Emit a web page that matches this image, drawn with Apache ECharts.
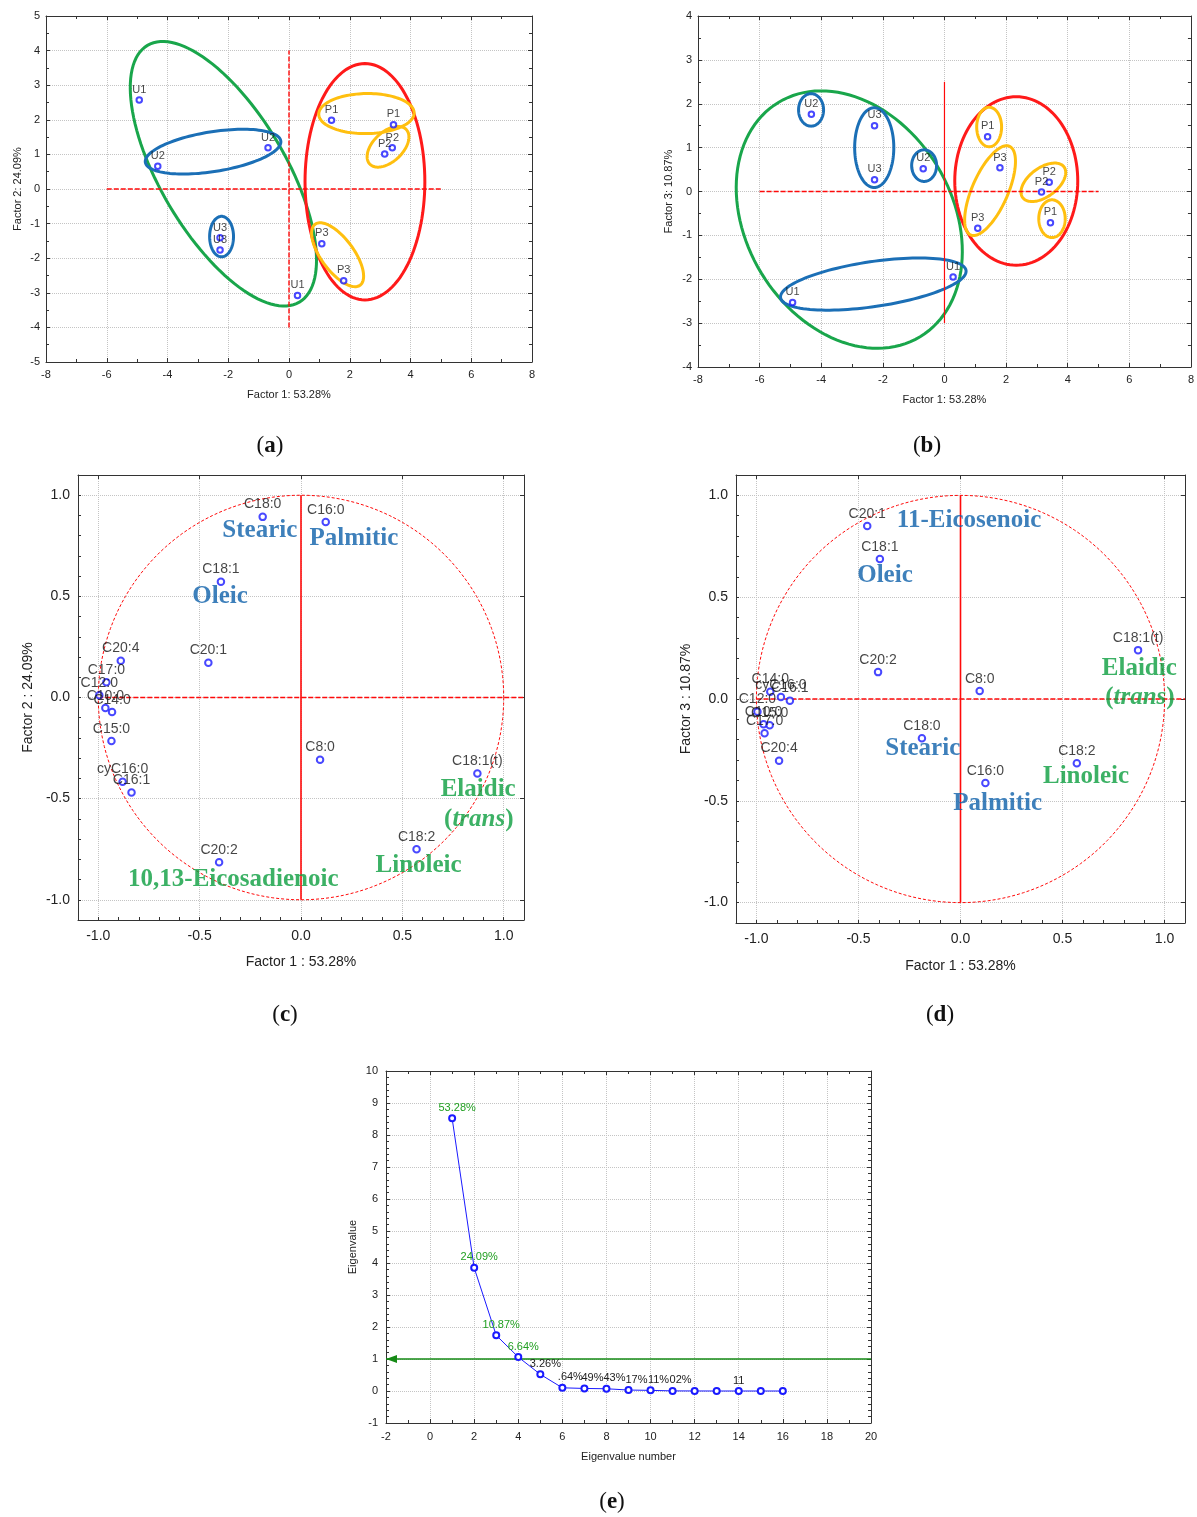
<!DOCTYPE html>
<html>
<head>
<meta charset="utf-8">
<title>PCA of fatty acids</title>
<script src="https://cdn.jsdelivr.net/npm/echarts@6/dist/echarts.min.js"></script>
<style>
html, body { margin: 0; padding: 0; background: #fff; }
#main { width: 1197px; height: 1517px; }
</style>
</head>
<body>
<div id="main"></div>
<script>
// ---- samples, panels (a) and (b) ----
const sampleNames = ['U1', 'U2', 'U2', 'U3', 'U3', 'U1', 'P1', 'P1', 'P2', 'P2', 'P3', 'P3'];
const sampleF1 = [-4.93, -4.32, -0.69, -2.27, -2.27, 0.28, 1.40, 3.44, 3.40, 3.15, 1.08, 1.80];
const sampleF2 = [2.57, 0.66, 1.19, -1.41, -1.76, -3.08, 1.99, 1.86, 1.19, 1.01, -1.58, -2.65];
const sampleF3 = [-2.53, 1.76, 0.52, 1.50, 0.27, -1.95, 1.25, -0.71, 0.21, -0.01, -0.84, 0.54];

// group ellipses: colour, centre x, centre y, tip of one half-axis x, y, minor/major ratio
const ellipsesA = [
  ['green', -2.16, 0.44, 0.34, -3.27, 0.42],
  ['blue', -2.50, 1.08, -0.27, 1.39, 0.29],
  ['blue', -2.22, -1.375, -2.22, -0.79, 0.59],
  ['red', 2.50, 0.21, 2.50, 3.625, 0.507],
  ['yellow', 2.55, 2.18, 4.12, 2.20, 0.42],
  ['yellow', 3.26, 1.22, 3.86, 1.72, 0.59],
  ['yellow', 1.60, -1.90, 2.34, -2.78, 0.43]
];
const ellipsesB = [
  ['green', -3.09, -0.64, -0.79, -3.31, 0.752],
  ['blue', -2.31, -2.11, 0.70, -1.80, 0.24],
  ['blue', -4.33, 1.86, -4.33, 2.23, 0.77],
  ['blue', -2.28, 1.00, -2.28, 1.91, 0.49],
  ['blue', -0.66, 0.59, -0.66, 0.95, 0.79],
  ['red', 2.33, 0.24, 2.33, 2.16, 0.73],
  ['yellow', 1.45, 1.47, 1.45, 1.92, 0.63],
  ['yellow', 1.48, 0.02, 2.11, 1.03, 0.37],
  ['yellow', 3.21, 0.21, 3.88, 0.56, 0.56],
  ['yellow', 3.49, -0.62, 3.49, -0.19, 0.70]
];
const crossAH = [[-6, 0], [5, 0]];
const crossAV = [[0, -4], [0, 4]];
const crossBH = [[-6, 0], [5, 0]];
const crossBV = [[0, -3], [0, 2.5]];

// ---- loadings, panels (c) and (d) ----
const fattyAcids = ['C8:0', 'C10:0', 'C12:0', 'C14:0', 'C15:0', 'C16:0', 'C16:1', 'cyC16:0',
  'C17:0', 'C18:0', 'C18:1', 'C18:1(t)', 'C18:2', 'C20:1', 'C20:2', 'C20:4'];
const loadF1 = [0.094, -0.965, -0.995, -0.932, -0.935, 0.122, -0.836, -0.880,
  -0.960, -0.189, -0.395, 0.870, 0.570, -0.457, -0.404, -0.889];
const loadF2 = [-0.308, -0.052, 0.011, -0.072, -0.215, 0.868, -0.470, -0.417,
  0.075, 0.893, 0.572, -0.376, -0.750, 0.172, -0.815, 0.182];
const loadF3 = [0.039, -0.124, -0.062, 0.036, -0.129, -0.413, -0.008, 0.010,
  -0.168, -0.193, 0.688, 0.240, -0.315, 0.850, 0.132, -0.303];
const circleRadius = 1;
const crossLoadH = [[-1, 0], [1.1, 0]];
const crossLoadV = [[0, -1], [0, 1]];

const annCText = ['Stearic', 'Palmitic', 'Oleic', 'Elaidic', '(trans)', 'Linoleic', '10,13-Eicosadienoic'];
const annCX = [-0.203, 0.261, -0.399, 0.874, 0.877, 0.580, -0.334];
const annCY = [0.824, 0.787, 0.499, -0.456, -0.601, -0.830, -0.901];
const annCGroup = ['blue', 'blue', 'blue', 'green', 'green', 'green', 'green'];

const annDText = ['11-Eicosenoic', 'Oleic', 'Elaidic', '(trans)', 'Stearic', 'Palmitic', 'Linoleic'];
const annDX = [0.042, -0.370, 0.876, 0.879, -0.185, 0.182, 0.615];
const annDY = [0.876, 0.606, 0.150, 0.005, -0.245, -0.515, -0.379];
const annDGroup = ['blue', 'blue', 'green', 'green', 'blue', 'blue', 'green'];

// ---- scree plot, panel (e) ----
const eigenNumber = [1, 2, 3, 4, 5, 6, 7, 8, 9, 10, 11, 12, 13, 14, 15, 16];
const eigenValue = [8.52, 3.85, 1.74, 1.06, 0.52, 0.10, 0.08, 0.07, 0.03, 0.02, 0.003, 0.001, 0, 0, 0, 0];
const eigenLabel = ['53.28%', '24.09%', '10.87%', '6.64%', '3.26%', '.64%', '49%', '43%', '17%', '11%', '02%', '', '', '11', '', ''];
const kaiserLine = [[-2, 1], [20, 1]];

const panelLetters = ['a', 'b', 'c', 'd', 'e'];

// ---- styles ----
const SANS = "'Liberation Sans', Arial, sans-serif";
const SERIF = "'Liberation Serif', 'Times New Roman', serif";
const SHAPE_COLORS = { green: '#19a64b', blue: '#1b6fb6', red: '#ff1a1a', yellow: '#ffbf0f' };
const TEXT_COLORS = { blue: '#0e60aa', green: '#0b9d3f' };
const POINT_COLOR = '#1a1aff';
const RED = '#ff0a0a';

const grids = [
  { left: 46, top: 16, width: 486, height: 346 },
  { left: 698, top: 16, width: 493, height: 351 },
  { left: 78, top: 475, width: 446, height: 445 },
  { left: 736, top: 475, width: 449, height: 448 },
  { left: 386, top: 1071, width: 485, height: 352 }
];

function halfFmt(v) {
  const h = Math.round(v * 2);
  return Math.abs(v * 2 - h) < 1e-6 ? (h / 2).toFixed(1) : '';
}

function makeAxis(dim, gridIndex, cfg, mirror) {
  const a = {
    type: 'value', gridIndex: gridIndex,
    position: dim === 'x' ? (mirror ? 'top' : 'bottom') : (mirror ? 'right' : 'left'),
    min: cfg.min, max: cfg.max,
    axisLine: { show: true, onZero: false, lineStyle: { color: '#333', width: 1 } },
    axisTick: { show: true, inside: true, length: 4, lineStyle: { color: '#333' } },
    minorTick: { show: cfg.minor > 0, splitNumber: cfg.minor || 2, length: 3, lineStyle: { color: '#333' } },
    axisLabel: { show: !mirror, fontFamily: SANS, fontSize: cfg.fs, color: '#222', margin: cfg.margin },
    splitLine: { show: false, lineStyle: { color: '#c4c4c4', type: 'dotted', width: 1 } }
  };
  if (!mirror) {
    a.name = cfg.name;
    a.nameLocation = 'middle';
    a.nameGap = cfg.nameGap;
    a.nameTextStyle = { fontFamily: SANS, fontSize: cfg.fs, color: '#222' };
  }
  if (cfg.loading) {
    // loadings: fine ticks every 0.1 on the labelled axis, grid lines every 0.5 from the mirror axis
    if (mirror) {
      a.splitNumber = 5;
      a.splitLine.show = true;
      a.minorTick.show = false;
    } else {
      a.interval = 0.1;
      a.minorTick.show = false;
      a.axisTick.length = 3;
      a.axisLabel.formatter = halfFmt;
    }
  } else {
    a.interval = cfg.interval;
    a.splitLine.show = !mirror;
  }
  return a;
}

const xCfg = [
  { min: -8, max: 8, interval: 2, minor: 2, fs: 11, name: 'Factor 1: 53.28%', nameGap: 27, margin: 7 },
  { min: -8, max: 8, interval: 2, minor: 2, fs: 11, name: 'Factor 1: 53.28%', nameGap: 27, margin: 7 },
  { min: -1.1, max: 1.1, loading: true, fs: 14, name: 'Factor 1 : 53.28%', nameGap: 35, margin: 9 },
  { min: -1.1, max: 1.1, loading: true, fs: 14, name: 'Factor 1 : 53.28%', nameGap: 36, margin: 9 },
  { min: -2, max: 20, interval: 2, minor: 2, fs: 11, name: 'Eigenvalue number', nameGap: 28, margin: 8 }
];
const yCfg = [
  { min: -5, max: 5, interval: 1, minor: 2, fs: 11, name: 'Factor 2: 24.09%', nameGap: 23, margin: 6 },
  { min: -4, max: 4, interval: 1, minor: 2, fs: 11, name: 'Factor 3: 10.87%', nameGap: 24, margin: 6 },
  { min: -1.1, max: 1.1, loading: true, fs: 14, name: 'Factor 2 : 24.09%', nameGap: 43, margin: 8 },
  { min: -1.1, max: 1.1, loading: true, fs: 14, name: 'Factor 3 : 10.87%', nameGap: 43, margin: 8 },
  { min: -1, max: 10, interval: 1, minor: 5, fs: 11, name: 'Eigenvalue', nameGap: 28, margin: 8 }
];

const xAxes = [];
const yAxes = [];
for (let g = 0; g < 5; g++) {
  xAxes.push(makeAxis('x', g, xCfg[g], false));
  yAxes.push(makeAxis('y', g, yCfg[g], false));
}
for (let g = 0; g < 5; g++) {
  xAxes.push(makeAxis('x', g, xCfg[g], true));
  yAxes.push(makeAxis('y', g, yCfg[g], true));
}

function pointSeries(ax, names, xs, ys, size, fs) {
  return {
    type: 'scatter', xAxisIndex: ax, yAxisIndex: ax, z: 5,
    symbol: 'emptyCircle', symbolSize: size,
    itemStyle: { color: POINT_COLOR, borderWidth: 1 },
    label: {
      show: true, position: 'top', distance: 1, formatter: function (p) { return p.name; },
      fontFamily: SANS, fontSize: fs, color: '#151515'
    },
    data: names.map(function (n, i) { return { name: n, value: [xs[i], ys[i]] }; })
  };
}

// straight reference segment drawn through the axes' scales (optional arrow head at the start)
function segmentSeries(ax, seg, color, width, dash, arrow) {
  return {
    type: 'custom', xAxisIndex: ax, yAxisIndex: ax, z: 4, silent: true,
    data: [[seg[0][0], seg[0][1], seg[1][0], seg[1][1]]],
    renderItem: function (params, api) {
      const p = api.coord([api.value(0), api.value(1)]);
      const q = api.coord([api.value(2), api.value(3)]);
      const style = { stroke: color, lineWidth: width };
      if (dash) style.lineDash = dash;
      const children = [{ type: 'line', shape: { x1: p[0], y1: p[1], x2: q[0], y2: q[1] }, style: style }];
      if (arrow) {
        children.push({
          type: 'polygon',
          shape: { points: [[p[0], p[1]], [p[0] + 11, p[1] - 4], [p[0] + 11, p[1] + 4]] },
          style: { fill: color }
        });
      }
      return { type: 'group', children: children };
    }
  };
}

function ellipseSeries(ax, list) {
  return {
    type: 'custom', xAxisIndex: ax, yAxisIndex: ax, z: 3, silent: true,
    data: list.map(function (e) { return [e[1], e[2], e[3], e[4], e[5]]; }),
    renderItem: function (params, api) {
      const c = api.coord([api.value(0), api.value(1)]);
      const t = api.coord([api.value(2), api.value(3)]);
      const ux = t[0] - c[0], uy = t[1] - c[1], r = api.value(4);
      const pts = [];
      for (let k = 0; k < 120; k++) {
        const a = k / 120 * Math.PI * 2, ca = Math.cos(a), sa = Math.sin(a);
        pts.push([c[0] + ux * ca - uy * r * sa, c[1] + uy * ca + ux * r * sa]);
      }
      return {
        type: 'polygon', shape: { points: pts },
        style: { fill: 'none', stroke: SHAPE_COLORS[list[params.dataIndex][0]], lineWidth: 3 }
      };
    }
  };
}

function circleSeries(ax) {
  return {
    type: 'custom', xAxisIndex: ax, yAxisIndex: ax, z: 2, silent: true,
    data: [[0, 0, circleRadius]],
    renderItem: function (params, api) {
      const c = api.coord([api.value(0), api.value(1)]);
      const s = api.size([api.value(2), api.value(2)]);
      const pts = [];
      for (let k = 0; k < 180; k++) {
        const a = k / 180 * Math.PI * 2;
        pts.push([c[0] + s[0] * Math.cos(a), c[1] + s[1] * Math.sin(a)]);
      }
      return {
        type: 'polygon', shape: { points: pts },
        style: { fill: 'none', stroke: RED, lineWidth: 1, lineDash: [3, 2] }
      };
    }
  };
}

function annotationSeries(ax, texts, xs, ys, groups) {
  const base = { fontFamily: SERIF, fontSize: 25, fontWeight: 'bold' };
  return {
    type: 'scatter', xAxisIndex: ax, yAxisIndex: ax, z: 6, silent: true,
    symbolSize: 1, itemStyle: { color: 'rgba(0,0,0,0)' },
    data: texts.map(function (t, i) {
      const col = TEXT_COLORS[groups[i]];
      return {
        name: t, value: [xs[i], ys[i]],
        label: {
          color: col,
          rich: {
            n: Object.assign({ color: col }, base),
            i: Object.assign({ color: col, fontStyle: 'italic' }, base)
          }
        }
      };
    }),
    label: Object.assign({
      show: true, position: 'inside',
      formatter: function (p) {
        return p.name === '(trans)' ? '{n|(}{i|trans}{n|)}' : p.name;
      }
    }, base)
  };
}

const screeSeries = {
  type: 'line', xAxisIndex: 4, yAxisIndex: 4, z: 5,
  symbol: 'emptyCircle', symbolSize: 6, showAllSymbol: true,
  lineStyle: { color: POINT_COLOR, width: 1 },
  itemStyle: { color: POINT_COLOR, borderWidth: 1 },
  data: eigenNumber.map(function (n, i) {
    const shift = i < 5 ? 5 : (i < 11 ? 8 : 0);
    return {
      value: [n, eigenValue[i]],
      label: { color: i < 4 ? '#22a022' : '#222', offset: [shift, 0] }
    };
  }),
  label: {
    show: true, position: 'top', distance: 1, fontFamily: SANS, fontSize: 11,
    formatter: function (p) { return eigenLabel[p.dataIndex]; }
  }
};

const series = [
  segmentSeries(0, crossAH, RED, 1.6, [5, 2]), segmentSeries(0, crossAV, RED, 1.4, [5, 2]),
  ellipseSeries(0, ellipsesA),
  pointSeries(0, sampleNames, sampleF1, sampleF2, 5.5, 11),

  segmentSeries(1, crossBH, RED, 1.6, [5, 2]), segmentSeries(1, crossBV, RED, 1.2, null),
  ellipseSeries(1, ellipsesB),
  pointSeries(1, sampleNames, sampleF1, sampleF3, 5.5, 11),

  circleSeries(2), segmentSeries(2, crossLoadH, RED, 1.6, [5, 2]), segmentSeries(2, crossLoadV, RED, 1.6, null),
  pointSeries(2, fattyAcids, loadF1, loadF2, 6.5, 14),
  annotationSeries(2, annCText, annCX, annCY, annCGroup),

  circleSeries(3), segmentSeries(3, crossLoadH, RED, 1.6, [5, 2]), segmentSeries(3, crossLoadV, RED, 1.6, null),
  pointSeries(3, fattyAcids, loadF1, loadF3, 6.5, 14),
  annotationSeries(3, annDText, annDX, annDY, annDGroup),

  segmentSeries(4, kaiserLine, '#158a15', 1.5, null, true),
  screeSeries
];

const captionPos = [[270, 446], [927, 446], [285, 1015], [940, 1015], [612, 1502]];
const graphic = panelLetters.map(function (l, i) {
  return {
    type: 'text', x: captionPos[i][0], y: captionPos[i][1], silent: true,
    style: {
      text: '{p|(}{b|' + l + '}{p|)}',
      align: 'center', verticalAlign: 'middle', textAlign: 'center', textVerticalAlign: 'middle',
      rich: {
        p: { fontFamily: SERIF, fontSize: 23, fill: '#111', color: '#111' },
        b: { fontFamily: SERIF, fontSize: 23, fontWeight: 'bold', fill: '#111', color: '#111' }
      }
    }
  };
});

const myChart = echarts.init(document.getElementById('main'), null, { renderer: 'canvas' });
myChart.setOption({
  animation: false,
  backgroundColor: '#fff',
  grid: grids.map(function (g) { return Object.assign({ containLabel: false, show: false }, g); }),
  xAxis: xAxes,
  yAxis: yAxes,
  series: series,
  graphic: graphic
});
</script>
</body>
</html>
